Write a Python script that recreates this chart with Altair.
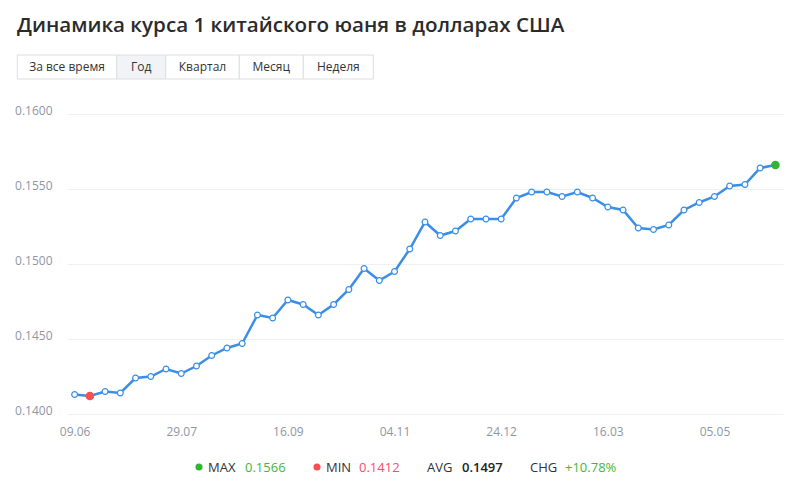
import altair as alt
import pandas as pd

TITLE = "Динамика курса 1 китайского юаня в долларах США"
BUTTONS = ["За все время", "Год", "Квартал", "Месяц", "Неделя"]
SELECTED = "Год"

RATES = [0.1413, 0.1412, 0.1415, 0.1414, 0.1424, 0.1425, 0.1430, 0.1427, 0.1432, 0.1439,
         0.1444, 0.1447, 0.1466, 0.1464, 0.1476, 0.1473, 0.1466, 0.1473, 0.1483, 0.1497,
         0.1489, 0.1495, 0.1510, 0.1528, 0.1519, 0.1522, 0.1530, 0.1530, 0.1530, 0.1544,
         0.1548, 0.1548, 0.1545, 0.1548, 0.1544, 0.1538, 0.1536, 0.1524, 0.1523, 0.1526,
         0.1536, 0.1541, 0.1545, 0.1552, 0.1553, 0.1564, 0.1566]
TICK_INDEX = [0, 7, 14, 21, 28, 35, 42]
TICK_LABELS = ["09.06", "29.07", "16.09", "04.11", "24.12", "16.03", "05.05"]
Y_TICKS = [0.1400, 0.1450, 0.1500, 0.1550, 0.1600]

STATS = {"MAX": "0.1566", "MIN": "0.1412", "AVG": "0.1497", "CHG": "+10.78%"}

FONT = "Open Sans"
BLUE = "#3a8ee6"
GREEN = "#2fb52f"
RED = "#f4504f"

df = pd.DataFrame({"i": list(range(len(RATES))), "v": RATES})
imin = RATES.index(min(RATES))
imax = RATES.index(max(RATES))
df_min = df.iloc[[imin]]
df_max = df.iloc[[imax]]

label_map = "{" + ",".join(f"'{i}':'{l}'" for i, l in zip(TICK_INDEX, TICK_LABELS)) + "}"

xenc = alt.X("i:Q", scale=alt.Scale(domain=[-0.5, len(RATES) - 0.5], nice=False, zero=False),
             axis=alt.Axis(values=TICK_INDEX, labelExpr=f"{label_map}[toString(datum.value)]",
                           grid=False, domain=False, ticks=False, labelPadding=12,
                           labelFontSize=12, labelColor="#8e96a4", labelFont=FONT, title=None))
yenc = alt.Y("v:Q", scale=alt.Scale(domain=[0.14, 0.16], nice=False, zero=False),
             axis=alt.Axis(values=Y_TICKS, format=".4f", grid=True, gridColor="#eef0f3",
                           domain=False, ticks=False, labelPadding=15, labelOffset=-4,
                           labelFontSize=12, labelColor="#8e96a4", labelFont=FONT, title=None))

base = alt.Chart(df)
line = base.mark_line(color=BLUE, strokeWidth=2.5).encode(x=xenc, y=yenc)
pts = base.mark_point(filled=True, fill="white", stroke=BLUE, strokeWidth=1.2, size=34,
                      opacity=1, shape="circle").encode(x=xenc, y=yenc)
pmin = alt.Chart(df_min).mark_circle(color=RED, size=75, opacity=1).encode(x=xenc, y=yenc)
pmax = alt.Chart(df_max).mark_circle(color=GREEN, size=75, opacity=1).encode(x=xenc, y=yenc)

one = pd.DataFrame({"d": [0]})
layers = [line, pts, pmin, pmax]

# title
layers.append(alt.Chart(pd.DataFrame({"t": [TITLE]})).mark_text(
    align="left", baseline="alphabetic", fontSize=20.6, fontWeight=600, font=FONT, color="#2b2b2b"
).encode(text="t:N", x=alt.value(-50), y=alt.value(-82)))

# buttons
edges = [-49.7, 49.7, 98.7, 172.3, 236.3, 306.3]
for k, b in enumerate(BUTTONS):
    layers.append(alt.Chart(one).mark_rect(
        fill="#f2f3f6" if b == SELECTED else "white", stroke="#dcdee2", strokeWidth=1
    ).encode(x=alt.value(edges[k]), x2=alt.value(edges[k + 1]), y=alt.value(-59), y2=alt.value(-35)))
for k, b in enumerate(BUTTONS):
    layers.append(alt.Chart(pd.DataFrame({"t": [b]})).mark_text(
        align="center", baseline="middle", fontSize=12, font=FONT, color="#333333"
    ).encode(text="t:N", x=alt.value((edges[k] + edges[k + 1]) / 2), y=alt.value(-47)))

# bottom legend
LY = 354
layers.append(alt.Chart(one).mark_circle(color=GREEN, size=50, opacity=1).encode(
    x=alt.value(132), y=alt.value(LY - 1)))
layers.append(alt.Chart(one).mark_circle(color=RED, size=50, opacity=1).encode(
    x=alt.value(250), y=alt.value(LY - 1)))
legend_items = [
    ("MAX", 141, "#333333", 400), (STATS["MAX"], 178, "#3db83d", 400),
    ("MIN", 259, "#333333", 400), (STATS["MIN"], 292, "#f0506e", 400),
    ("AVG", 360, "#333333", 400), (STATS["AVG"], 395, "#222222", 600),
    ("CHG", 463, "#333333", 400), (STATS["CHG"], 498, "#3db83d", 400),
]
for txt, xx, col, w in legend_items:
    layers.append(alt.Chart(pd.DataFrame({"t": [txt]})).mark_text(
        align="left", baseline="middle", fontSize=13, font=FONT, color=col, fontWeight=w
    ).encode(text="t:N", x=alt.value(xx), y=alt.value(LY)))

chart = alt.layer(*layers).properties(
    width=716, height=300,
    background="white",
    autosize=alt.AutoSizeParams(type="none"),
    padding={"left": 59, "top": 106, "right": 4, "bottom": 70},
).configure_view(strokeWidth=0, stroke=None).configure_axis(
    domain=False, ticks=False
).configure_axisX(grid=False)

chart.save("out.html", embed_options={"renderer": "svg", "actions": False})
